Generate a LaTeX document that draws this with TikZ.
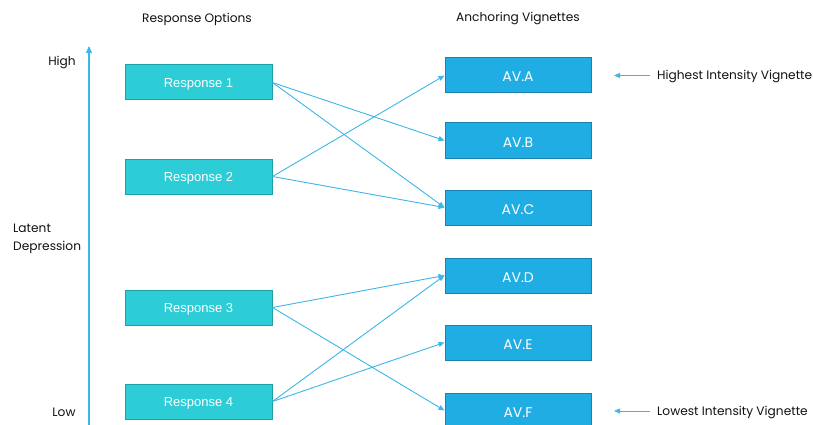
\documentclass[tikz,border=0pt]{standalone}
\usepackage{fontspec}
\setmainfont{Poppins}
\newfontfamily\arialfont{Liberation Sans}
\usetikzlibrary{arrows.meta}
\definecolor{respfill}{HTML}{2CCDD7}
\definecolor{respline}{HTML}{1FA0A8}
\definecolor{avfill}{HTML}{1FADE3}
\definecolor{avline}{HTML}{1A82AE}
\definecolor{linkcol}{HTML}{3DB6E8}
\definecolor{txt}{HTML}{111111}
\begin{document}
\begin{tikzpicture}[x=1pt,y=-1pt,
  respbox/.style={draw=respline,line width=1pt,fill=respfill,minimum width=147pt,minimum height=35pt,
    text=white,font=\arialfont\fontsize{13}{15}\selectfont,inner sep=0pt,
    text height=11.5pt,text depth=1.5pt},
  avbox/.style={draw=avline,line width=1pt,fill=avfill,minimum width=146pt,minimum height=35pt,
    text=white,font=\fontsize{14}{16}\selectfont,inner sep=0pt,
    text height=13pt,text depth=0pt},
  label/.style={text=txt,font=\fontsize{12.2}{18}\selectfont,inner sep=0pt},
  link/.style={draw=linkcol,line width=0.9pt,-{Triangle[length=6pt,width=5pt]}}
  ]
\useasboundingbox (0,0) rectangle (813,425);
\clip (0,0) rectangle (813,425);

% column headings
\node[label] (hresp) at (197,19) {Response Options};
\node[label] (hav) at (518,19) {Anchoring Vignettes};

% latent scale
\coordinate (axbot) at (89,430);
\coordinate (axtop) at (89,46);
\draw[draw=linkcol,line width=1.2pt,-{Triangle[length=7pt,width=6pt]}] (axbot) -- (axtop);
\node[label] (high) at (62,62.5) {High};
\node[label] (low) at (64,412.5) {Low};
\node[label,align=left,anchor=west] (latent) at (13,239) {Latent\\Depression};

% response options
\node[respbox] (r1) at (198.5,82.5) {Response 1};
\node[respbox] (r2) at (198.5,176.5) {Response 2};
\node[respbox] (r3) at (198.5,307.5) {Response 3};
\node[respbox] (r4) at (198.5,401.5) {Response 4};

% anchoring vignettes
\node[avbox] (a) at (518,75.5) {AV.A};
\node[avbox] (b) at (518,140.5) {AV.B};
\node[avbox] (c) at (518,207.5) {AV.C};
\node[avbox] (d) at (518,275.5) {AV.D};
\node[avbox] (e) at (518,342.5) {AV.E};
\node[avbox] (f) at (518,410.5) {AV.F};

% mappings
\draw[link] (r1.east) -- (b.west);
\draw[link] (r1.east) -- (c.west);
\draw[link] (r2.east) -- (a.west);
\draw[link] (r2.east) -- (c.west);
\draw[link] (r3.east) -- (d.west);
\draw[link] (r3.east) -- (f.west);
\draw[link] (r4.east) -- (d.west);
\draw[link] (r4.east) -- (e.west);

% intensity annotations
\node[label,anchor=west] (hi) at (657,77) {Highest Intensity Vignette};
\node[label,anchor=west] (lo) at (657,412.5) {Lowest Intensity Vignette};
\coordinate (hitip) at (614,75.5);
\coordinate (lotip) at (614,411);
\coordinate (hitail) at (650,75.5);
\coordinate (lotail) at (650,411);
\draw[link,line width=0.8pt] (hitail) -- (hitip);
\draw[link,line width=0.8pt] (lotail) -- (lotip);
\end{tikzpicture}
\end{document}
